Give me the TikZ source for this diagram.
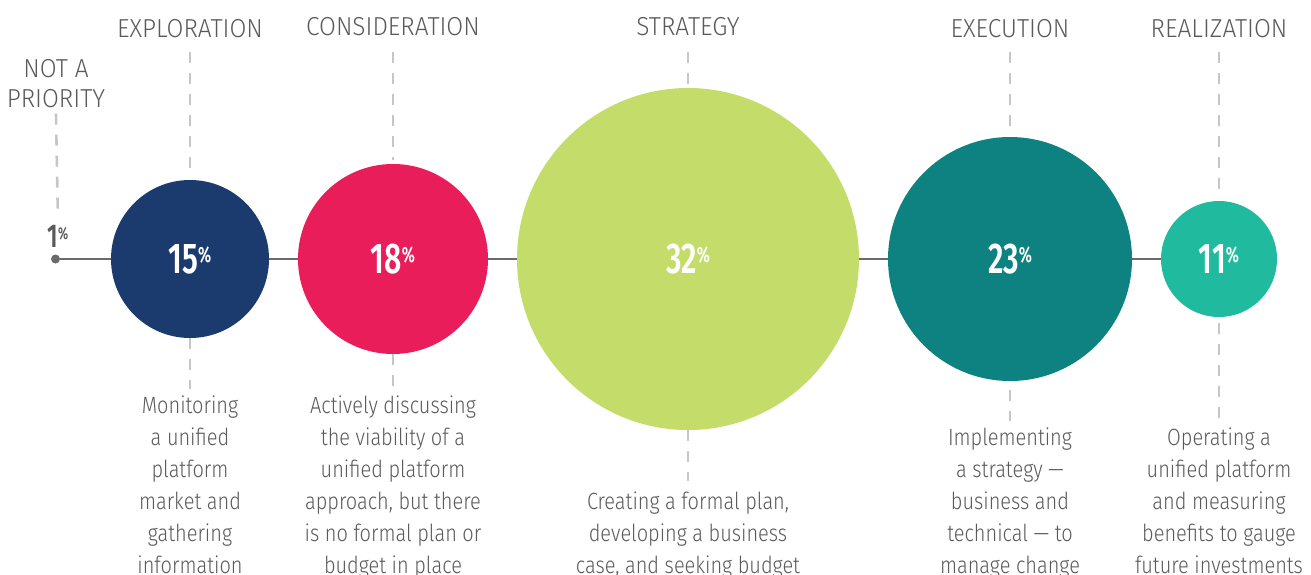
\documentclass[tikz,border=0pt]{standalone}
\usepackage{fontspec}
\setmainfont{Fira Sans}[UprightFont={* Light},BoldFont={* Medium},FakeStretch=0.85]
\newfontfamily\labfont{Fira Sans}[UprightFont={* Light},FakeStretch=0.94]
\newfontfamily\numfont{Fira Sans}[UprightFont={* SemiBold},FakeStretch=0.70]
\definecolor{navy}{HTML}{1B3B6F}
\definecolor{pinkc}{HTML}{EA1D5B}
\definecolor{limec}{HTML}{C3DC6A}
\definecolor{tealc}{HTML}{0E8181}
\definecolor{mintc}{HTML}{20BB9F}
\definecolor{txtgray}{HTML}{5A5A5A}
\definecolor{dashgray}{HTML}{C6C6C6}
\definecolor{linegray}{HTML}{6A6A6A}
\newcommand\pctlabel[1]{{\numfont\fontsize{43}{43}\selectfont #1}\raisebox{11pt}{\numfont\fontsize{22}{22}\selectfont\%}}
\begin{document}
\begin{tikzpicture}[x=1pt,y=-1pt,
  lab/.style={font=\labfont\fontsize{26}{30}\selectfont, text=txtgray, inner sep=0pt, align=center},
  desc/.style={font=\fontsize{23.5}{32}\selectfont, text=txtgray, inner sep=0pt, align=center, anchor=north},
  bubble/.style={circle, inner sep=0pt, minimum size=#1, text=white},
  dashline/.style={draw=dashgray, line width=2.6pt, dash pattern=on 11pt off 10pt},
  hline/.style={draw=linegray, line width=1.6pt},
]
\useasboundingbox (0,0) rectangle (1311,575);

% bubbles
\node[circle, fill=linegray, inner sep=0pt, minimum size=9pt] (c0) at (55.5,259) {};
\node[bubble=158, fill=navy]  (c1) at (190,259) {\pctlabel{15}};
\node[bubble=190, fill=pinkc] (c2) at (393,259) {\pctlabel{18}};
\node[bubble=342, fill=limec] (c3) at (688,259) {\pctlabel{32}};
\node[bubble=244, fill=tealc] (c4) at (1010,259) {\pctlabel{23}};
\node[bubble=116, fill=mintc] (c5) at (1219,259) {\pctlabel{11}};

% horizontal connectors
\draw[hline] (c0) -- (c1);
\draw[hline] (c1) -- (c2);
\draw[hline] (c2) -- (c3);
\draw[hline] (c3) -- (c4);
\draw[hline] (c4) -- (c5);

% 1% label
\node[anchor=base, inner sep=0pt, text=txtgray] (p0) at (58,247)
  {{\numfont\fontsize{33}{33}\selectfont 1}\raisebox{8pt}{\numfont\fontsize{17}{17}\selectfont\%}};

% top labels
\node[lab, anchor=north] (t0) at (56,56) {\strut NOT A\\PRIORITY};
\node[lab, anchor=base] (t1) at (190,38) {EXPLORATION};
\node[lab, anchor=base] (t2) at (393,36) {CONSIDERATION};
\node[lab, anchor=base] (t3) at (688,36) {STRATEGY};
\node[lab, anchor=base] (t4) at (1010,38) {EXECUTION};
\node[lab, anchor=base] (t5) at (1219,38) {REALIZATION};

% top dashed lines
\draw[dashline, shorten >=14pt] ([yshift=-6pt]t0.south) -- (p0.north);
\draw[dashline, shorten >=6pt] ([yshift=-14pt]t1.base) -- (c1.north);
\draw[dashline, shorten >=4pt] ([yshift=-16pt]t2.base) -- (c2.north);
\draw[dashline, shorten >=3pt] ([yshift=-16pt]t3.base) -- (c3.north);
\draw[dashline, shorten >=6pt] ([yshift=-14pt]t4.base) -- (c4.north);
\draw[dashline, shorten >=6pt] ([yshift=-14pt]t5.base) -- (c5.north);

% descriptions
\node[desc] (d1) at (190,390.6) {\strut Monitoring\\a unified\\platform\\market and\\gathering\\information};
\node[desc] (d2) at (393,390.6) {\strut Actively discussing\\the viability of a\\unified platform\\approach, but there\\is no formal plan or\\budget in place};
\node[desc] (d3) at (688,486.6) {\strut Creating a formal plan,\\developing a business\\case, and seeking budget};
\node[desc] (d4) at (1010,422.6) {\strut Implementing\\a strategy ---\\business and\\technical --- to\\manage change};
\node[desc] (d5) at (1219,422.6) {\strut Operating a\\unified platform\\and measuring\\benefits to gauge\\future investments};

% bottom dashed lines
\draw[dashline, shorten >=2pt] (c1.south) -- (d1.north);
\draw[dashline, shorten >=4pt] (c2.south) -- (d2.north);
\draw[dashline, shorten >=6pt] (c3.south) -- (d3.north);
\draw[dashline, shorten <=9pt, shorten >=2pt] (c4.south) -- (d4.north);
\draw[dashline, shorten <=6pt, shorten >=2pt] (c5.south) -- (d5.north);
\end{tikzpicture}
\end{document}
